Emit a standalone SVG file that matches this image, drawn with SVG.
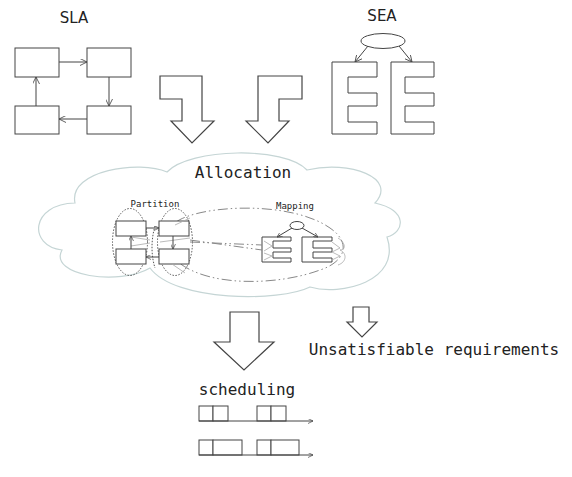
<svg xmlns="http://www.w3.org/2000/svg" width="572" height="477" viewBox="0 0 572 477">
<defs>
<style>
.box{fill:#fff;stroke:#444;stroke-width:1}
.ln{fill:none;stroke:#444;stroke-width:1}
.blk{fill:#fff;stroke:#444;stroke-width:1.2}
.cloud{fill:#fff;stroke:#c5d5d5;stroke-width:1.2}
.dot{fill:none;stroke:#555;stroke-width:1;stroke-dasharray:1.5 1.5}
.dd{fill:none;stroke:#888;stroke-width:1;stroke-dasharray:10 3 1.5 3 1.5 3}
.gr{fill:none;stroke:#aaa;stroke-width:0.8}
.t{font-family:"DejaVu Sans Mono",monospace;fill:#222}
.s{font-family:"DejaVu Sans",sans-serif;fill:#222}
</style>
<marker id="oa" viewBox="0 0 10 10" refX="10" refY="5" markerWidth="7" markerHeight="7" orient="auto" markerUnits="userSpaceOnUse">
<path d="M0,0 L10,5 L0,10" fill="none" stroke="#444" stroke-width="1.2"/>
</marker>
<marker id="sa" viewBox="0 0 10 10" refX="10" refY="5" markerWidth="5" markerHeight="5" orient="auto" markerUnits="userSpaceOnUse">
<path d="M0,0 L10,5 L0,10" fill="none" stroke="#444" stroke-width="1.4"/>
</marker>
</defs>
<rect width="572" height="477" fill="#fff"/>

<g id="sla">
<text class="s" x="74" y="23" font-size="15" text-anchor="middle">SLA</text>
<rect class="box" x="15" y="48" width="44" height="29"/>
<rect class="box" x="87" y="48" width="44" height="29"/>
<rect class="box" x="15" y="106" width="44" height="28"/>
<rect class="box" x="87" y="106" width="44" height="28"/>
</g>
<g id="sea">
<text class="s" x="382" y="21" font-size="15" text-anchor="middle">SEA</text>
<ellipse class="box" cx="383" cy="41" rx="22" ry="7.5"/>
<polygon class="box" points="332,62 377,62 377,77 348,77 348,93 377,93 377,106 348,106 348,122 377,122 377,134 332,134"/>
<polygon class="box" points="391,62 434,62 434,77 405,77 405,93 434,93 434,106 405,106 405,122 434,122 434,134 391,134"/>
</g>
<g id="flow-arrows">
<polygon class="blk" points="160,76 202,76 202,121 214,121 192,143 171,121 182,121 182,99 160,99"/>
<polygon class="blk" points="258,76 302,76 302,99 279,99 279,121 289,121 268,143 246,121 258,121"/>
<polygon class="blk" points="230,312 259,312 259,342 274,342 244,370 214,342 230,342"/>
<polygon class="blk" points="353,307 369,307 369,322 377,322 362,337 347,322 353,322"/>
</g>

<g id="allocation">
<path class="cloud" d="M75,203 C68,170 140,160 167,172 C190,148 285,146 307,170 C350,160 398,178 375,203 C408,210 405,232 387,237 C402,282 340,296 310,287 C280,302 175,302 150,268 C120,286 48,276 62,250 C28,246 30,204 75,203 Z"/>
<text class="t" x="243" y="178" font-size="16" text-anchor="middle">Allocation</text>
</g>

<g id="mapping">
<path class="dd" d="M176,222 C200,205 290,200 330,228 C352,243 345,262 320,270 C280,285 210,288 178,262"/>
<text class="t" x="295" y="209" font-size="9" text-anchor="middle">Mapping</text>
<ellipse class="box" cx="297" cy="225.5" rx="7" ry="4"/>
<polygon class="box" points="262,237 291,237 291,241 273,241 273,248 291,248 291,252 273,252 273,258 291,258 291,262 262,262"/>
<polygon class="box" points="302,237 332,237 332,241 313,241 313,248 332,248 332,252 313,252 313,258 332,258 332,262 302,262"/>
<path class="gr" d="M264,241 L272,246 L264,251 M264,253 L272,256 L264,260 M332,242 L340,248 L332,252 M332,252 L340,256 L332,260"/>
<path class="gr" d="M338,238 C346,243 346,250 340,250 C347,253 347,262 338,265"/>
</g>

<g id="partition">
<text class="t" x="155" y="207" font-size="9" text-anchor="middle">Partition</text>
<ellipse class="dot" cx="130" cy="242" rx="17.5" ry="33.5"/>
<ellipse class="dot" cx="175" cy="242" rx="17.5" ry="33.5"/>
<path class="dot" d="M155,226 C151,240 151,255 155,268"/>
<rect class="box" x="116" y="221" width="30" height="15"/>
<rect class="box" x="159" y="221" width="30" height="15"/>
<rect class="box" x="116" y="249" width="30" height="15"/>
<rect class="box" x="159" y="249" width="30" height="15"/>
<path class="gr" d="M131,237 L150,240 M131,246 L150,243 M160,242 L190,238 M175,225 L190,218 M172,264 L185,273"/>
</g>

<g id="scheduling">
<text class="t" x="247" y="395" font-size="16" text-anchor="middle">scheduling</text>
<rect class="box" x="199" y="406" width="14" height="15"/>
<rect class="box" x="213" y="406" width="15" height="15"/>
<rect class="box" x="257" y="406" width="14" height="15"/>
<rect class="box" x="271" y="406" width="15" height="15"/>
<rect class="box" x="199" y="440" width="14" height="15"/>
<rect class="box" x="213" y="440" width="29" height="15"/>
<rect class="box" x="257" y="440" width="14" height="15"/>
<rect class="box" x="271" y="440" width="28" height="15"/>
</g>

<g id="unsat">
<text class="t" x="434" y="355" font-size="16" text-anchor="middle">Unsatisfiable requirements</text>
</g>

<g id="connectors">
<line class="ln" x1="59" y1="62" x2="87" y2="62" marker-end="url(#oa)"/>
<line class="ln" x1="109" y1="77" x2="109" y2="106" marker-end="url(#oa)"/>
<line class="ln" x1="87" y1="119" x2="59" y2="119" marker-end="url(#oa)"/>
<line class="ln" x1="36" y1="106" x2="36" y2="77" marker-end="url(#oa)"/>
<line class="ln" x1="368" y1="46" x2="355" y2="62" marker-end="url(#oa)"/>
<line class="ln" x1="399" y1="46" x2="412" y2="62" marker-end="url(#oa)"/>
<line class="ln" x1="146" y1="228" x2="159" y2="228" marker-end="url(#sa)"/>
<line class="ln" x1="173" y1="236" x2="173" y2="249" marker-end="url(#sa)"/>
<line class="ln" x1="159" y1="257" x2="146" y2="257" marker-end="url(#sa)"/>
<line class="ln" x1="131" y1="249" x2="131" y2="236" marker-end="url(#sa)"/>
<line class="ln" x1="292" y1="228" x2="277" y2="237" marker-end="url(#sa)"/>
<line class="ln" x1="302" y1="228" x2="318" y2="237" marker-end="url(#sa)"/>
<path class="dd" d="M190,242 L262,245 M190,240 L262,250"/>
<line class="ln" x1="199" y1="421" x2="313" y2="421" marker-end="url(#sa)"/>
<line class="ln" x1="199" y1="455" x2="313" y2="455" marker-end="url(#sa)"/>
</g>
</svg>
